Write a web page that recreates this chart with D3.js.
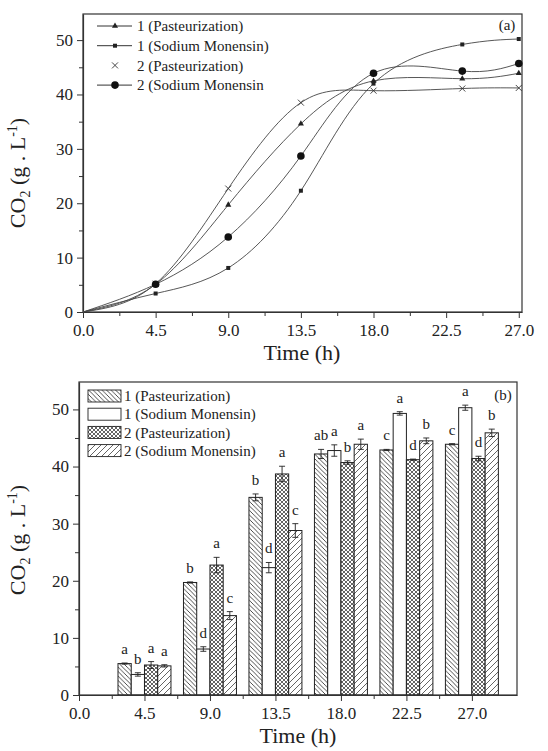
<!DOCTYPE html>
<html lang="en">
  <head>
    <meta charset="utf-8">
    <title>CO2 production</title>
    <script src="https://d3js.org/d3.v7.min.js"></script>
    <style>
      body { margin: 0; background: #fff; }
      svg { display: block; font-family: "Liberation Serif", "Times New Roman", serif; }
      .tick text { font-family: "Liberation Serif", serif; font-size: 17px; fill: #222; }
      .axisTitle { font-family: "Liberation Serif", serif; font-size: 22px; fill: #222; }
      .leg { font-family: "Liberation Serif", serif; font-size: 15px; fill: #222; }
      .letter { font-family: "Liberation Serif", serif; font-size: 15px; fill: #222; text-anchor: middle; }
      .curve { fill: none; stroke: #444; stroke-width: 0.9; }
    </style>
  </head>
  <body>
    <svg id="chart" width="548" height="751"></svg>
    <script>

    // data
    const series = ['1 (Pasteurization)', '1 (Sodium Monensin)', '2 (Pasteurization)', '2 (Sodium Monensin)'];

    // panel (a): time course
    const timeA = [0, 4.5, 9, 13.5, 18, 23.5, 27];
    const p1Line = [0, 5.1, 19.7, 34.6, 42.5, 42.9, 43.9];
    const sm1Line = [0, 3.4, 8.1, 22.3, 42.0, 49.2, 50.2];
    const p2Line = [0, 5.2, 22.7, 38.5, 40.7, 41.1, 41.2];
    const sm2Line = [0, 5.1, 13.8, 28.7, 43.9, 44.3, 45.7];

    // panel (b): bars
    const timeB = [4.5, 9, 13.5, 18, 22.5, 27];
    const p1Bar = [5.5, 19.7, 34.6, 42.2, 42.9, 43.9];
    const sm1Bar = [3.6, 8.05, 22.3, 42.8, 49.3, 50.3];
    const p2Bar = [5.25, 22.75, 38.7, 40.7, 41.2, 41.4];
    const sm2Bar = [5.1, 13.9, 28.8, 43.9, 44.5, 45.9];
    const p1Err = [0.1, 0.1, 0.6, 0.8, 0.1, 0.1];
    const sm1Err = [0.3, 0.4, 0.9, 1.0, 0.3, 0.45];
    const p2Err = [0.6, 1.35, 1.35, 0.3, 0.1, 0.4];
    const sm2Err = [0.2, 0.7, 1.2, 0.9, 0.5, 0.65];
    const p1Sig = ['a', 'b', 'b', 'ab', 'c', 'c'];
    const sm1Sig = ['b', 'd', 'd', 'a', 'a', 'a'];
    const p2Sig = ['a', 'a', 'a', 'b', 'd', 'd'];
    const sm2Sig = ['a', 'c', 'c', 'a', 'b', 'b'];

    const xTicks = [0, 4.5, 9, 13.5, 18, 22.5, 27];
    const xMinor = [2.25, 6.75, 11.25, 15.75, 20.25, 24.75];
    const yTicks = [0, 10, 20, 30, 40, 50];
    const yMinor = [5, 15, 25, 35, 45];

    const svg = d3.select('#chart');

    // patterns
    const defs = svg.append('defs');
    function hatch(id, size, paths, w) {
      const p = defs.append('pattern')
        .attr('id', id)
        .attr('patternUnits', 'userSpaceOnUse')
        .attr('width', size).attr('height', size);
      p.append('rect').attr('width', size).attr('height', size).attr('fill', '#fff');
      paths.forEach(d => p.append('path').attr('d', d).attr('stroke', '#222').attr('stroke-width', w).attr('fill', 'none'));
    }
    hatch('back', 4.5, ['M-1,-1 L5.5,5.5', 'M-1,3.5 L1,5.5', 'M3.5,-1 L5.5,1'], 0.8);
    hatch('cross', 4, ['M-1,-1 L5,5', 'M-1,5 L5,-1', 'M-1,3 L1,5', 'M3,-1 L5,1', 'M-1,1 L1,-1', 'M3,5 L5,3'], 0.7);
    hatch('fwd', 6, ['M-1,7 L7,-1', 'M-1,1 L1,-1', 'M5,7 L7,5'], 0.7);
    const fills = ['url(#back)', '#fff', 'url(#cross)', 'url(#fwd)'];

    function frame(x, y, x0, x1, y0, y1) {
      svg.append('rect')
        .attr('x', x0).attr('y', y1)
        .attr('width', x1 - x0).attr('height', y0 - y1)
        .attr('fill', 'none').attr('stroke', '#333').attr('stroke-width', 1.2);

      svg.append('g')
        .attr('transform', 'translate(0,' + y0 + ')')
        .call(d3.axisBottom(x).tickValues(xTicks).tickFormat(d3.format('.1f')).tickSize(6).tickSizeOuter(0).tickPadding(6))
        .call(g => g.select('.domain').attr('stroke', '#333').attr('stroke-width', 1.2));
      svg.append('g')
        .attr('transform', 'translate(0,' + y0 + ')')
        .call(d3.axisBottom(x).tickValues(xMinor).tickFormat('').tickSize(4).tickSizeOuter(0))
        .call(g => g.select('.domain').remove());

      svg.append('g')
        .attr('transform', 'translate(' + x0 + ',0)')
        .call(d3.axisLeft(y).tickValues(yTicks).tickSize(6).tickSizeOuter(0).tickPadding(4))
        .call(g => g.select('.domain').attr('stroke', '#333').attr('stroke-width', 1.2));
      svg.append('g')
        .attr('transform', 'translate(' + x0 + ',0)')
        .call(d3.axisLeft(y).tickValues(yMinor).tickFormat('').tickSize(4).tickSizeOuter(0))
        .call(g => g.select('.domain').remove());

      svg.selectAll('.tick line').attr('stroke', '#333');
    }

    function yTitle(cy) {
      const t = svg.append('text')
        .attr('class', 'axisTitle')
        .attr('text-anchor', 'middle')
        .attr('transform', 'translate(25,' + cy + ') rotate(-90)');
      t.append('tspan').text('CO');
      t.append('tspan').attr('dy', 5).attr('font-size', 14).text('2');
      t.append('tspan').attr('dy', -5).text(' (g . L');
      t.append('tspan').attr('dy', -8).attr('font-size', 14).text('-1');
      t.append('tspan').attr('dy', 8).text(')');
    }

    function xTitle(cx, y) {
      svg.append('text')
        .attr('class', 'axisTitle')
        .attr('text-anchor', 'middle')
        .attr('x', cx).attr('y', y)
        .text('Time (h)');
    }

    // ---------- panel (a) ----------
    const xA = d3.scaleLinear().domain([0, 27.2]).range([83, 522]);
    const yA = d3.scaleLinear().domain([0, 54.8]).range([312, 14]);
    frame(xA, yA, 83, 522, 312, 14);

    const lineGen = d3.line()
      .x((d, i) => xA(timeA[i]))
      .y(d => yA(d))
      .curve(d3.curveNatural);

    const linesA = [p1Line, sm1Line, p2Line, sm2Line];
    linesA.forEach(vals => {
      svg.append('path').attr('class', 'curve').attr('d', lineGen(vals));
    });

    function marker(g, k, cx, cy) {
      if (k === 0) {
        g.append('path').attr('d', d3.symbol(d3.symbolTriangle, 16)()).attr('transform', 'translate(' + cx + ',' + cy + ')').attr('fill', '#222');
      } else if (k === 1) {
        g.append('rect').attr('x', cx - 2).attr('y', cy - 2).attr('width', 4).attr('height', 4).attr('fill', '#222');
      } else if (k === 2) {
        g.append('path').attr('d', 'M-3,-3L3,3M-3,3L3,-3').attr('transform', 'translate(' + cx + ',' + cy + ')').attr('stroke', '#333').attr('stroke-width', 0.9);
      } else {
        g.append('circle').attr('cx', cx).attr('cy', cy).attr('r', 3.8).attr('fill', '#111');
      }
    }

    const markG = svg.append('g');
    linesA.forEach((vals, k) => {
      vals.forEach((v, i) => {
        if (i > 0) marker(markG, k, xA(timeA[i]), yA(v));
      });
    });

    // legend (a)
    series.forEach((s, k) => {
      const ly = 26 + k * 19.7;
      if (k !== 2) {
        svg.append('line').attr('x1', 97).attr('x2', 132).attr('y1', ly).attr('y2', ly).attr('stroke', '#333').attr('stroke-width', 1);
      }
      marker(svg, k, 115, ly);
      svg.append('text').attr('class', 'leg').attr('x', 137).attr('y', ly).attr('dy', '0.35em')
        .text(k === 3 ? '2 (Sodium Monensin' : s);
    });
    svg.append('text').attr('class', 'leg').attr('font-size', 17).attr('text-anchor', 'middle')
      .attr('x', 507).attr('y', 25).attr('dy', '0.35em').text('(a)');

    yTitle(173);
    xTitle(302, 360);

    // ---------- panel (b) ----------
    const xB = d3.scaleLinear().domain([0, 30.1]).range([79, 517]);
    const yB = d3.scaleLinear().domain([0, 54.8]).range([695, 382]);

    const barW = xB(0.91) - xB(0);
    const offset = d3.scaleBand().domain(series).range([-2 * barW, 2 * barW]);

    const bars = [p1Bar, sm1Bar, p2Bar, sm2Bar];
    const errs = [p1Err, sm1Err, p2Err, sm2Err];
    const sigs = [p1Sig, sm1Sig, p2Sig, sm2Sig];

    const barG = svg.append('g');
    bars.forEach((vals, k) => {
      barG.selectAll(null)
        .data(vals)
        .enter()
        .append('rect')
        .attr('x', (d, i) => xB(timeB[i]) + offset(series[k]))
        .attr('y', d => yB(d))
        .attr('width', offset.bandwidth())
        .attr('height', d => yB(0) - yB(d))
        .attr('fill', fills[k])
        .attr('stroke', '#222')
        .attr('stroke-width', 1);
    });

    bars.forEach((vals, k) => {
      vals.forEach((v, i) => {
        const cx = xB(timeB[i]) + offset(series[k]) + offset.bandwidth() / 2;
        const e = errs[k][i];
        const top = yB(v + e), bot = yB(v - e);
        barG.append('path')
          .attr('d', 'M' + cx + ',' + top + 'V' + bot + 'M' + (cx - 3) + ',' + top + 'H' + (cx + 3) + 'M' + (cx - 3) + ',' + bot + 'H' + (cx + 3))
          .attr('stroke', '#222').attr('stroke-width', 0.9).attr('fill', 'none');
        svg.append('text').attr('class', 'letter')
          .attr('x', cx).attr('y', top - 9)
          .text(sigs[k][i]);
      });
    });

    frame(xB, yB, 79, 517, 695, 382);

    // legend (b)
    series.forEach((s, k) => {
      const ly = 396 + k * 18.2;
      svg.append('rect').attr('x', 88).attr('y', ly - 6).attr('width', 33).attr('height', 12)
        .attr('fill', fills[k]).attr('stroke', '#222').attr('stroke-width', 0.9);
      svg.append('text').attr('class', 'leg').attr('font-size', 14).attr('x', 124).attr('y', ly).attr('dy', '0.35em').text(s);
    });
    svg.append('text').attr('class', 'leg').attr('font-size', 17).attr('text-anchor', 'middle')
      .attr('x', 503).attr('y', 395).attr('dy', '0.35em').text('(b)');

    yTitle(540);
    xTitle(298, 743);

    </script>
  </body>
</html>
